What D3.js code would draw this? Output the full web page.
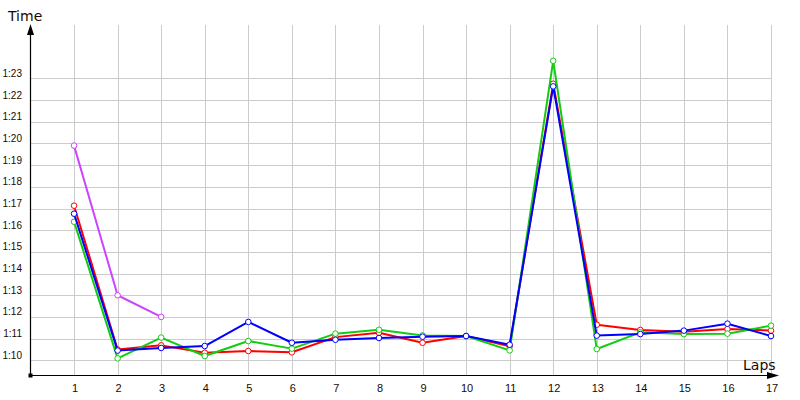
<!DOCTYPE html>
<html><head><meta charset="utf-8">
<script src="https://cdn.jsdelivr.net/npm/d3@7"></script>
<style>body{margin:0;background:#fff;}svg{display:block;}</style>
</head><body>
<svg id="c" width="800" height="400"></svg>
<script>
const laps = [1,2,3,4,5,6,7,8,9,10,11,12,13,14,15,16,17];
const redTimes    = [77.13,70.5,70.69,70.35,70.43,70.37,71.07,71.27,70.81,71.12,70.65,82.75,71.64,71.4,71.32,71.44,71.37];
const greenTimes  = [76.39,70.09,71.05,70.2,70.89,70.54,71.23,71.41,71.15,71.12,70.46,83.81,70.52,71.29,71.21,71.23,71.6];
const blueTimes   = [76.76,70.45,70.57,70.66,71.77,70.81,70.95,71.03,71.09,71.12,70.72,82.63,71.14,71.21,71.37,71.69,71.12];
const purpleTimes = [79.9,73.0,72.0];
const yTicks = [70,71,72,73,74,75,76,77,78,79,80,81,82,83];
const yTickLabels = ["1:10","1:11","1:12","1:13","1:14","1:15","1:16","1:17","1:18","1:19","1:20","1:21","1:22","1:23"];

const svg = d3.select("#c");
const x = d3.scaleLinear().domain([0,17]).range([30.5,771]);
const y = d3.scaleLinear().domain([69.31,85.46]).range([375.3,25]);
const ink = "#1a0800";

// grid
const g = svg.append("g");
g.selectAll("line.v").data(laps).enter().append("line")
  .attr("x1",d=>Math.round(x(d))+0.5).attr("x2",d=>Math.round(x(d))+0.5)
  .attr("y1",25).attr("y2",375).attr("stroke","#cccccc").attr("stroke-width",1);
g.selectAll("line.h").data(yTicks).enter().append("line")
  .attr("x1",31).attr("x2",771)
  .attr("y1",d=>Math.round(y(d))+0.5).attr("y2",d=>Math.round(y(d))+0.5)
  .attr("stroke","#cccccc").attr("stroke-width",1);

// axes
svg.append("line").attr("x1",30.5).attr("x2",30.5).attr("y1",32).attr("y2",375.5).attr("stroke","#000").attr("stroke-width",1.2);
svg.append("line").attr("x1",30).attr("x2",770).attr("y1",375.5).attr("y2",375.5).attr("stroke","#000").attr("stroke-width",1.2);
svg.append("path").attr("d","M30.5,24 L27,35 L34,35 Z").attr("fill","#000");
svg.append("path").attr("d","M779,375.5 L767,372 L767,379 Z").attr("fill","#000");
svg.append("rect").attr("x",28.5).attr("y",373.5).attr("width",4).attr("height",4).attr("fill","#000");

// y tick labels
svg.selectAll("text.yl").data(yTicks).enter().append("text")
  .attr("x",22).attr("y",d=>y(d)-1.5).attr("text-anchor","end")
  .attr("font-family","Liberation Sans, Arial, sans-serif").attr("font-size",10)
  .attr("fill",ink).text((d,i)=>yTickLabels[i]);
// x tick labels
svg.selectAll("text.xl").data(laps).enter().append("text")
  .attr("x",d=>x(d)+1).attr("y",392).attr("text-anchor","middle")
  .attr("font-family","Liberation Sans, Arial, sans-serif").attr("font-size",11)
  .attr("fill",ink).text(d=>d);

svg.append("text").attr("x",8).attr("y",20.5).attr("font-family","DejaVu Sans, sans-serif")
  .attr("font-size",14).attr("fill",ink).text("Time");
svg.append("text").attr("x",743).attr("y",370).attr("font-family","DejaVu Sans, sans-serif")
  .attr("font-size",14).attr("fill",ink).text("Laps");

const line = d3.line().x(d=>x(d[0])).y(d=>y(d[1]));
const series = [
  {vals:purpleTimes,color:"#cc44ff"},
  {vals:redTimes,color:"#ff0000"},
  {vals:greenTimes,color:"#11cc11"},
  {vals:blueTimes,color:"#0000ff"}
];
series.forEach(s=>{
  const pts = s.vals.map((v,i)=>[laps[i],v]);
  svg.append("path").attr("d",line(pts)).attr("fill","none")
    .attr("stroke",s.color).attr("stroke-width",2).attr("stroke-linejoin","round");
  svg.selectAll(null).data(pts).enter().append("circle")
    .attr("cx",d=>x(d[0])).attr("cy",d=>y(d[1])).attr("r",2.8)
    .attr("fill","#fff").attr("stroke",s.color).attr("stroke-width",1);
});
</script>
</body></html>
